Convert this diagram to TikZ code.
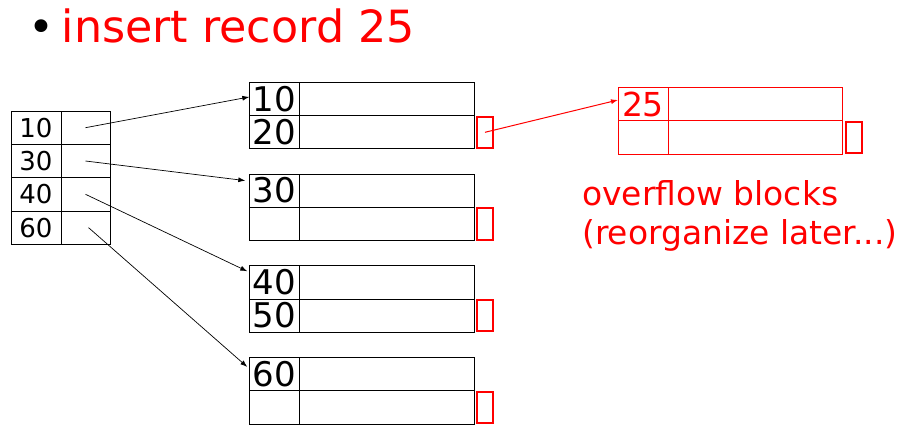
\documentclass[tikz,border=0pt]{standalone}
\usepackage{fontspec}
\setmainfont{DejaVu Sans}
\usetikzlibrary{arrows.meta,calc}

\tikzset{
  cell/.style={draw, line width=0.8pt, inner sep=0pt, outer sep=0pt, minimum height=33.3pt},
  idxkey/.style={cell, minimum width=50pt, font=\fontsize{26}{30}\selectfont},
  idxptr/.style={cell, minimum width=49pt},
  blkkey/.style={cell, minimum width=50pt, font=\fontsize{34}{40}\selectfont},
  blkval/.style={cell, minimum width=174.7pt},
  redptr/.style={draw=red, line width=2pt, inner sep=0pt, minimum width=16pt, minimum height=31.3pt},
  ovcell/.style={cell, draw=red, line width=0.6pt, text=red},
  link/.style={-{Latex[length=7pt,width=5pt]}, line width=0.7pt},
}

\begin{document}
\begin{tikzpicture}[x=1pt,y=-1pt]
  \useasboundingbox (0,0) rectangle (906,438);

  % title
  \node[anchor=base, inner sep=0pt, font=\fontsize{44}{50}\selectfont] (bul) at (41,43) {\textbullet};
  \node[anchor=base west, inner sep=0pt, text=red, font=\fontsize{44.4}{50}\selectfont] (title) at (61.5,43) {insert record 25};

  % index block
  \foreach \r/\k in {1/10,2/30,3/40,4/60}{
    \node[idxkey] (ik\r) at (36,94.4+33.3*\r) {\k};
    \node[idxptr] (ip\r) at (85.5,94.4+33.3*\r) {};
  }

  % data blocks, each with a pointer slot
  \foreach \b/\ka/\kb in {1/10/20,2/30/,3/40/50,4/60/}{
    \pgfmathsetmacro\ytop{82.3+91.67*(\b-1)}
    \node[blkkey] (blk\b-ka) at (274.3,\ytop+16.65) {\ka};
    \node[blkval] (blk\b-va) at (386.65,\ytop+16.65) {};
    \node[blkkey] (blk\b-kb) at (274.3,\ytop+49.95) {\kb};
    \node[blkval] (blk\b-vb) at (386.65,\ytop+49.95) {};
    \node[redptr] (blk\b-p) at (485,\ytop+50) {};
  }

  % overflow block
  \node[ovcell, minimum width=50pt, font=\fontsize{33}{40}\selectfont] (ov-ka) at (643,104) {25};
  \node[ovcell, minimum width=174.7pt] (ov-va) at (755.35,104) {};
  \node[ovcell, minimum width=50pt] (ov-kb) at (643,137.4) {};
  \node[ovcell, minimum width=174.7pt] (ov-vb) at (755.35,137.4) {};
  \node[redptr] (ov-p) at (853.5,137.5) {};

  % pointers
  \draw[link] (ip1.center) -- ([yshift=2pt]blk1-ka.west);
  \draw[link] (ip2.center) -- ([xshift=-4pt,yshift=10pt]blk2-ka.west);
  \draw[link] (ip3.center) -- ([xshift=-2pt,yshift=11pt]blk3-ka.west);
  \draw[link] ([xshift=3pt]ip4.center) -- ([xshift=-2pt,yshift=7pt]blk4-ka.west);
  \draw[link, red, line width=1pt] (blk1-p.center) -- ([yshift=4pt]ov-ka.west);

  \node[anchor=base west, inner sep=0pt, text=red, align=left, font=\fontsize{32.9}{39}\selectfont] (ovtxt) at (582,245) {overflow blocks\\(reorganize later...)};
\end{tikzpicture}
\end{document}
